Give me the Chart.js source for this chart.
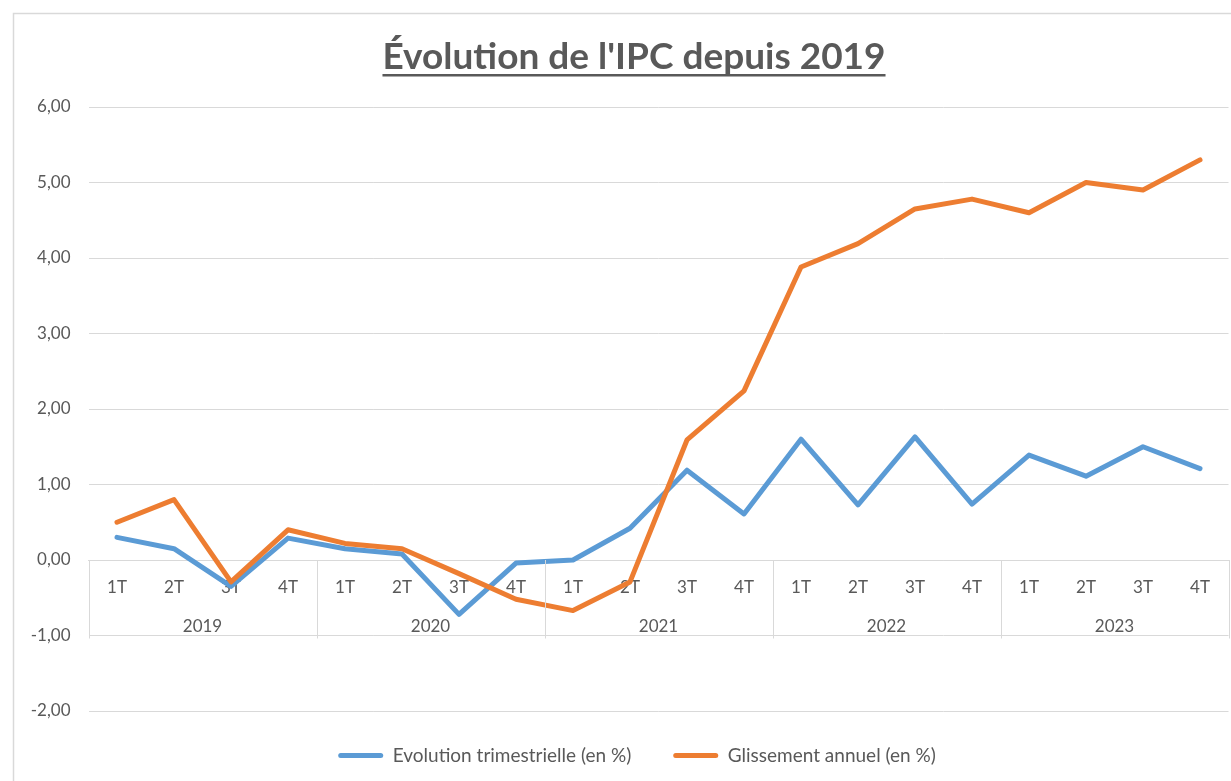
<!DOCTYPE html>
<html>
<head>
<meta charset="utf-8">
<script src="https://cdn.jsdelivr.net/npm/chart.js@4/dist/chart.umd.min.js"></script>
<style>
html,body{margin:0;padding:0;background:#fff;}
#wrap{width:1231px;height:781px;position:relative;}
</style>
</head>
<body>
<div id="wrap"><canvas id="c" width="1231" height="781"></canvas></div>
<script>
const quarters = ["1T","2T","3T","4T","1T","2T","3T","4T","1T","2T","3T","4T","1T","2T","3T","4T","1T","2T","3T","4T"];
const years = ["2019","2020","2021","2022","2023"];
const evolutionTrimestrielle = [0.30,0.15,-0.35,0.29, 0.15,0.08,-0.72,-0.04, 0.00,0.42,1.19,0.61, 1.60,0.73,1.63,0.74, 1.39,1.11,1.50,1.21];
const glissementAnnuel = [0.50,0.80,-0.29,0.40, 0.22,0.15,-0.18,-0.52, -0.67,-0.29,1.59,2.24, 3.88,4.19,4.65,4.78, 4.60,5.00,4.90,5.30];
const yTicks = {min:-2, max:6, step:1};

const TXT = '#595959';
const GRID = '#d9d9d9';
const FONT = 'Lato';
const TITLE_SIZE = 37;
const LEGEND_PAD = 42;
const LEGEND_H = 70;
const FRAME_CX = 635;

const frame = {
  id:'frame',
  beforeDraw(chart){
    const ctx = chart.ctx;
    ctx.save();
    ctx.fillStyle='#fff';
    ctx.fillRect(0,0,chart.width,chart.height);
    ctx.strokeStyle=GRID; ctx.lineWidth=1.5;
    ctx.strokeRect(13.5,13.5,chart.width+20,chart.height+20);
    ctx.restore();
  }
};

// keep the legend compact vertically while using wide horizontal item spacing
const legendPlace = {
  id:'legendPlace',
  beforeLayout(chart){
    const lg = chart.legend;
    if(lg && !lg._patched){
      const of = lg.fit;
      lg.fit = function(){ of.call(this); this.height = LEGEND_H; };
      lg._patched = true;
    }
  },
  afterLayout(chart){
    const lg = chart.legend, t = chart.titleBlock;
    const shift = (b,extra)=>{ const dx = FRAME_CX + extra - (b.left+b.right)/2; b.left += dx; b.right += dx; };
    if(t) shift(t,-1);
    if(lg){ shift(lg,2); lg.top -= 7; lg.bottom -= 7; }
  }
};

const groupAxis = {
  id:'groupAxis',
  afterDraw(chart){
    const x = chart.scales.x, y = chart.scales.y, ctx = chart.ctx;
    const half = (x.getPixelForValue(1)-x.getPixelForValue(0))/2;
    const y0 = y.getPixelForValue(0), y1 = y.getPixelForValue(-1);
    ctx.save();
    ctx.strokeStyle=GRID; ctx.lineWidth=1;
    for(let g=0; g<=years.length; g++){
      const px = g<years.length ? x.getPixelForValue(g*4)-half : x.getPixelForValue(quarters.length-1)+half;
      ctx.beginPath(); ctx.moveTo(Math.round(px)+0.5,y0); ctx.lineTo(Math.round(px)+0.5,y1+3); ctx.stroke();
    }
    ctx.fillStyle=TXT; ctx.font='17px '+FONT; ctx.textAlign='center'; ctx.textBaseline='middle';
    years.forEach((yr,g)=>{
      const cx = (x.getPixelForValue(g*4)+x.getPixelForValue(g*4+3))/2;
      ctx.fillText(yr, cx, y1-9);
    });
    ctx.restore();
  }
};

const underline = {
  id:'underline',
  afterDraw(chart){
    const t = chart.titleBlock; if(!t) return;
    const ctx = chart.ctx;
    ctx.save();
    ctx.font = 'bold '+TITLE_SIZE+'px '+FONT;
    const w = ctx.measureText(chart.options.plugins.title.text).width;
    const cx = (t.left+t.right)/2;
    const ty = t.top + t.options.padding.top + TITLE_SIZE*1.2/2 + 18;
    ctx.strokeStyle=TXT; ctx.lineWidth=2.5;
    ctx.beginPath(); ctx.moveTo(cx-w/2, ty); ctx.lineTo(cx+w/2, ty); ctx.stroke();
    ctx.restore();
  }
};

new Chart(document.getElementById('c'), {
  type:'line',
  data:{
    labels: quarters,
    datasets:[
      {label:'Evolution trimestrielle (en %)', data:evolutionTrimestrielle, borderColor:'#5B9BD5', backgroundColor:'#5B9BD5', borderWidth:5, pointRadius:0, tension:0, borderCapStyle:'round', borderJoinStyle:'round'},
      {label:'Glissement annuel (en %)', data:glissementAnnuel, borderColor:'#ED7D31', backgroundColor:'#ED7D31', borderWidth:5, pointRadius:0, tension:0, borderCapStyle:'round', borderJoinStyle:'round', order:-1}
    ]
  },
  plugins:[frame, legendPlace, groupAxis, underline],
  options:{
    responsive:false, animation:false,
    layout:{padding:{left:13, right:2.5, top:0, bottom:0}},
    plugins:{
      title:{display:true, text:"Évolution de l'IPC depuis 2019", color:TXT, font:{family:FONT, size:TITLE_SIZE, weight:'bold'}, padding:{top:35, bottom:27.6}},
      legend:{position:'bottom', labels:{
        sort:(a,b)=>a.datasetIndex-b.datasetIndex, color:TXT, font:{family:FONT, size:19},
        boxWidth:45, boxHeight:5, padding:LEGEND_PAD, useBorderRadius:true, borderRadius:2.5,
        generateLabels:(chart)=>Chart.defaults.plugins.legend.labels.generateLabels(chart).map(l=>Object.assign(l,{lineWidth:0}))
      }},
      tooltip:{enabled:false}
    },
    scales:{
      y:{min:yTicks.min, max:yTicks.max,
         ticks:{stepSize:yTicks.step, color:TXT, font:{family:FONT,size:17}, padding:18,
                callback:v=>v.toFixed(2).replace('.',',')},
         grid:{color:GRID, drawTicks:false, lineWidth:1},
         border:{display:false},
         afterFit:s=>{s.width=75.5;}},
      x:{position:{y:0}, offset:true,
         ticks:{color:TXT, font:{family:FONT,size:17}, padding:17, autoSkip:false, maxRotation:0},
         grid:{display:false, drawTicks:false, offset:true},
         border:{display:true, color:GRID}}
    }
  }
});
</script>
</body>
</html>
